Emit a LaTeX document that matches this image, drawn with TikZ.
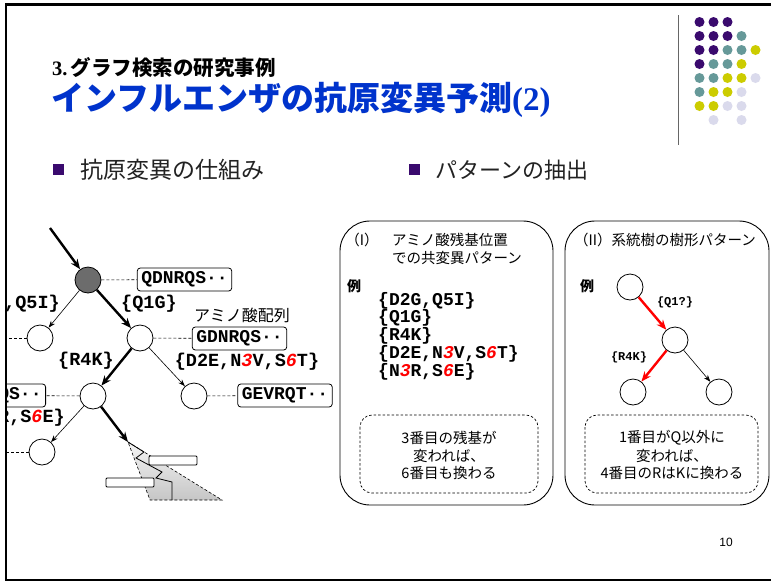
\documentclass[tikz,border=0pt]{standalone}
\usepackage{fontspec}
\setmainfont{Liberation Sans}
\newfontfamily\jp{Noto Sans CJK JP}
\newfontfamily\mono{Liberation Mono}
\newfontfamily\tms{Liberation Serif}
\usetikzlibrary{arrows.meta}
\definecolor{ttlblue}{HTML}{0033CC}
\definecolor{dpurple}{HTML}{3A0A6E}
\definecolor{dteal}{HTML}{669999}
\definecolor{dyellow}{HTML}{CCCC00}
\definecolor{dlav}{HTML}{DADAEC}
\definecolor{txtgray}{HTML}{222222}
\newcommand{\fsz}[1]{\fontsize{#1}{#1}\selectfont}
\newcommand{\rd}[1]{{\color{red}\itshape #1}}
\begin{document}
\begin{tikzpicture}[x=1pt,y=-1pt,
  nd/.style={circle,draw,line width=0.8,minimum size=26,inner sep=0,fill=white},
  seq/.style={draw,rounded corners=3,line width=0.8,font=\mono\bfseries\fsz{18},inner xsep=4,inner ysep=0,minimum height=23},
  lab/.style={font=\mono\bfseries\fsz{18.5},inner sep=0},
  lst/.style={font=\mono\bfseries\fontsize{18}{16.25}\selectfont,inner sep=0,align=left},
  slab/.style={font=\mono\bfseries\fsz{12},inner sep=0},
  thk/.style={line width=2.4,-{Stealth[length=10,width=8]}},
  thn/.style={line width=0.6,-{Stealth[length=7,width=5]}},
  dsh/.style={line width=0.6,dash pattern=on 3pt off 2pt},
  jpt/.style={font=\jp\fsz{14.5},inner sep=0},
  bigbox/.style={draw,line width=0.9,rounded corners=30},
  dbox/.style={draw,line width=0.7,dash pattern=on 2.5pt off 2pt,rounded corners=12},
  dot/.style={circle,inner sep=0,minimum size=10}]
\useasboundingbox (0,0) rectangle (771,582);
\fill[white] (0,0) rectangle (771,582);

% header
\node[anchor=west,inner sep=0] (t1) at (52,67.5) {\fsz{20.5}{\tms\bfseries 3.}\,{\jp\bfseries グラフ検索の研究事例}};
\node[anchor=west,inner sep=0,text=ttlblue] (t2) at (51,100) {\fsz{33}{\jp\bfseries インフルエンザの抗原変異予測}{\tms\bfseries (2)}};
\fill[dpurple] (53,164) rectangle (64,175);
\node[anchor=west,inner sep=0,text=txtgray,font=\jp\fsz{23}] (b1) at (80,170) {抗原変異の仕組み};
\fill[dpurple] (409,164) rectangle (420,175);
\node[anchor=west,inner sep=0,text=txtgray,font=\jp\fsz{22}] (b2) at (435,170) {パターンの抽出};

% decorative dots
\draw[gray!80!black,line width=1] (678,15) -- (678,145);
\foreach \c/\r/\col in {1/1/dpurple,2/1/dpurple,3/1/dpurple,
  1/2/dpurple,2/2/dpurple,3/2/dpurple,4/2/dteal,
  1/3/dpurple,2/3/dpurple,3/3/dteal,4/3/dteal,5/3/dyellow,
  1/4/dpurple,2/4/dteal,3/4/dteal,4/4/dyellow,
  1/5/dteal,2/5/dteal,3/5/dyellow,4/5/dyellow,5/5/dlav,
  1/6/dteal,2/6/dyellow,3/6/dyellow,4/6/dlav,
  1/7/dyellow,2/7/dyellow,3/7/dlav,4/7/dlav,
  2/8/dlav,4/8/dlav}
  \node[dot,fill=\col] (d\c\r) at ({685.5+14*\c},{8+14*\r}) {};

% left tree
\begin{scope}
\clip (7,200) rectangle (338,520);
\coordinate (in) at (50,228);
\node[nd,fill=gray!85!black] (g) at (88,280) {};
\node[seq] (sq1) at (184.5,279.5) {QDNRQS··};
\node[nd] (l1) at (40,338) {};
\node[nd] (n2) at (140,338) {};
\node[seq] (sq2) at (239.5,338.5) {GDNRQS··};
\node[nd] (n3) at (93,396) {};
\node[nd] (n4) at (194,396) {};
\node[seq] (sq3) at (285,395.5) {GEVRQT··};
\node[seq,anchor=east,text width=70,align=right] (sq4) at (46,395.5) {QS··};
\node[nd] (n5) at (42,452) {};
\coordinate (e1) at (0,338);
\coordinate (e2) at (0,452);
\coordinate (apex) at (128,442);
\node[lab] (q1g) at (149,304) {\{Q1G\}};
\node[lab,anchor=east] (q5i) at (60,304) {\{D2G,Q5I\}};
\node[lab] (r4k) at (86,361) {\{R4K\}};
\node[lab] (d2e) at (247,362) {\{D2E,N\rd{3}V,S\rd{6}T\}};
\node[lab,anchor=east] (s6e) at (65,418) {\{N\rd{3}R,S\rd{6}E\}};
\node[font=\jp\fsz{16},inner sep=0] (ami) at (242,315) {アミノ酸配列};
\draw[thk] (in) -- (g);
\draw[thk] (g) -- (n2);
\draw[thn] (g) -- (l1);
\draw[thk] (n2) -- (n3);
\draw[thn] (n2) -- (n4);
\draw[thn] (n3) -- (n5);
\draw[thk] (n3) -- (apex);
\draw[dsh] (g) -- (sq1);
\draw[dsh] (n2) -- (sq2);
\draw[dsh] (n4) -- (sq3);
\draw[dsh] (n3) -- (sq4);
\draw[dsh] (l1) -- (e1);
\draw[dsh] (n5) -- (e2);
% subtree wedge
\shade[top color=gray!8,bottom color=gray!45] (128,442) -- (222,500) -- (150,500) -- cycle;
\draw[dsh] (128,442) -- (222,500) -- (150,500) -- cycle;
\draw[line width=0.8] (128,442) -- (144,452) -- (136,458) -- (162,472) -- (156,478) -- (172,482) -- (172,500);
\draw[line width=0.8,fill=white,rounded corners=1] (149,456) rectangle (197,465);
\draw[line width=0.8,fill=white,rounded corners=1] (106,478) rectangle (154,487);
\end{scope}

% box I
\draw[bigbox] (340,221) rectangle (553,505);
\node[jpt] (p1a) at (362,240) {（I）};
\node[jpt,anchor=west] (p1b) at (392,240) {アミノ酸残基位置};
\node[jpt,anchor=west] (p1c) at (392,258) {での共変異パターン};
\node[jpt,font=\jp\bfseries\fsz{14}] (ex1) at (354,286) {例};
\node[lst,anchor=west] (clist) at (378,336) {\{D2G,Q5I\}\\\{Q1G\}\\\{R4K\}\\\{D2E,N\rd{3}V,S\rd{6}T\}\\\{N\rd{3}R,S\rd{6}E\}};
\draw[dbox] (360,415) rectangle (538,493);
\node[jpt] (m1) at (449,438) {3番目の残基が};
\node[jpt] (m2) at (449,456) {変われば、};
\node[jpt] (m3) at (449,473) {6番目も換わる};

% box II
\draw[bigbox] (565,221) rectangle (769,505);
\node[jpt] (p2) at (665,240) {（II）系統樹の樹形パターン};
\node[jpt,font=\jp\bfseries\fsz{14}] (ex2) at (587,286) {例};
\node[nd] (a) at (630,287) {};
\node[nd] (b) at (675,340) {};
\node[nd] (c) at (633,392) {};
\node[nd] (d) at (719,392) {};
\draw[line width=2.4,red,-{Stealth[length=10,width=8]}] (a) -- (b);
\draw[line width=2.4,red,-{Stealth[length=10,width=8]}] (b) -- (c);
\draw[thn] (b) -- (d);
\node[slab] (q1q) at (675,302) {\{Q1?\}};
\node[slab] (r4k2) at (629,357) {\{R4K\}};
\draw[dbox] (585,415) rectangle (758,493);
\node[jpt] (k1) at (672,438) {1番目がQ以外に};
\node[jpt] (k2) at (672,456) {変われば、};
\node[jpt] (k3) at (672,473) {4番目のRはKに換わる};

% page number
\node[font=\fsz{12},inner sep=0] (pg) at (726,542) {10};

% frame
\draw[line width=2.5] (771,4.5) -- (6,4.5) -- (6,580) -- (771,580);
\end{tikzpicture}
\end{document}
